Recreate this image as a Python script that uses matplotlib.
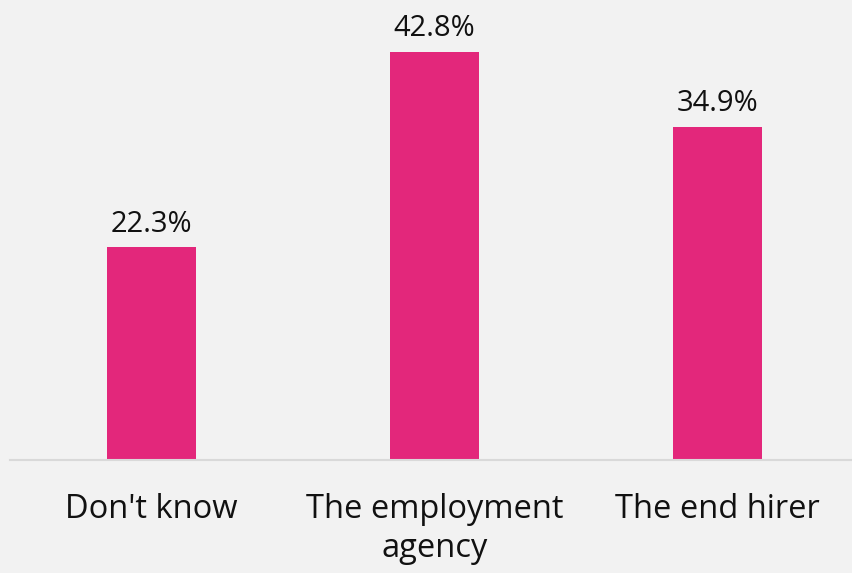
import matplotlib.pyplot as plt

categories = ["Don't know", "The employment\nagency", "The end hirer"]
values = [22.3, 42.8, 34.9]
value_labels = ["22.3%", "42.8%", "34.9%"]

BG = "#F2F2F2"
BAR = "#E3277B"

plt.rcParams["font.family"] = ["Open Sans", "DejaVu Sans"]

fig = plt.figure(figsize=(8.53, 5.73), dpi=100, facecolor=BG)
# axes in pixel terms: left 10, right 853, baseline at y=460 from top
ax = fig.add_axes([10 / 853, 113 / 573, 843 / 853, 460 / 573], facecolor=BG)

x = list(range(len(categories)))
ax.bar(x, values, width=0.311, color=BAR, zorder=2)

ax.set_xlim(-0.5, -0.5 + 843 / 283)
ax.set_ylim(0, 460 / 9.53)

for xi, v, lab in zip(x, values, value_labels):
    ax.annotate(lab, (xi, v), xytext=(0, 11.5), textcoords="offset points",
                ha="center", va="baseline", fontsize=21, color="#111111")

ax.set_xticks(x)
ax.set_xticklabels(categories, fontsize=23.5, color="#111111", linespacing=1.24)
ax.tick_params(axis="x", length=0, pad=24)
ax.set_yticks([])

for s in ["top", "right", "left"]:
    ax.spines[s].set_visible(False)
ax.spines["bottom"].set_color("#D9D9D9")
ax.spines["bottom"].set_linewidth(1.5)

fig.savefig("out.png", dpi=100, facecolor=BG)
